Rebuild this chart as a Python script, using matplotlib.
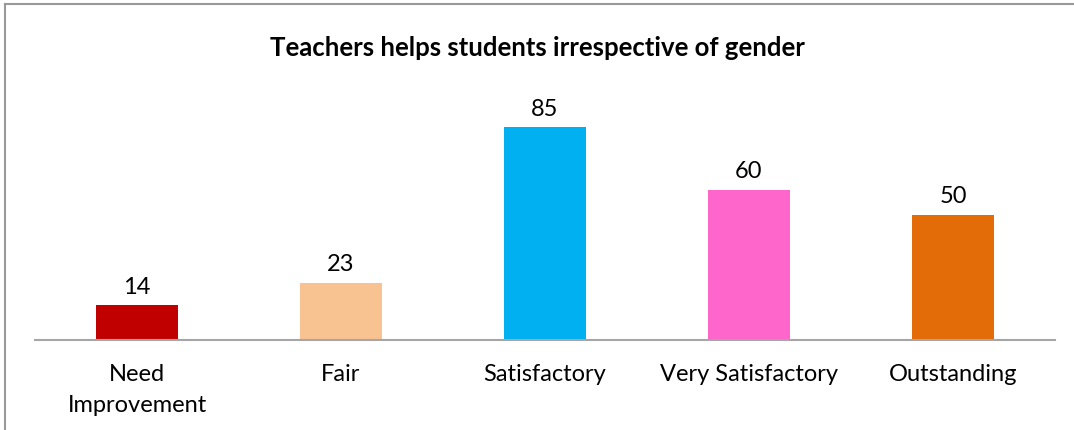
import matplotlib.pyplot as plt
from matplotlib.lines import Line2D

# data
categories = ["Need\nImprovement", "Fair", "Satisfactory", "Very Satisfactory", "Outstanding"]
values = [14, 23, 85, 60, 50]
colors = ["#C00000", "#F8C291", "#00B0F0", "#FF66CC", "#E36C09"]

plt.rcParams['font.family'] = ['Lato', 'DejaVu Sans']

fig = plt.figure(figsize=(10.74, 4.3), dpi=100)
ax = fig.add_axes([35 / 1074, 90 / 430, 1020 / 1074, 250 / 430])

x = range(len(categories))
bars = ax.bar(x, values, width=0.4, color=colors)
for b, v in zip(bars, values):
    ax.text(b.get_x() + b.get_width() / 2, v + 3, str(v),
            ha='center', va='bottom', fontsize=17)

ax.set_xlim(-0.5, len(categories) - 0.5)
ax.set_ylim(0, 100)
ax.set_xticks(list(x))
ax.set_xticklabels(categories, fontsize=17, linespacing=1.6)
ax.tick_params(axis='x', length=0, pad=17)
ax.set_yticks([])
for s in ['top', 'right', 'left']:
    ax.spines[s].set_visible(False)
ax.spines['bottom'].set_color('#A6A6A6')
ax.spines['bottom'].set_linewidth(1.5)

fig.text(0.5, 1 - 48 / 430, "Teachers helps students irrespective of gender",
         ha='center', va='center', fontsize=18.5, fontweight='bold')

# outer frame (left and top edges visible)
fig.add_artist(Line2D([5 / 1074, 5 / 1074], [0, 1 - 4 / 430], color='#999999', lw=1.5))
fig.add_artist(Line2D([5 / 1074, 1], [1 - 4 / 430, 1 - 4 / 430], color='#999999', lw=1.5))

fig.savefig("out.png", dpi=100)
